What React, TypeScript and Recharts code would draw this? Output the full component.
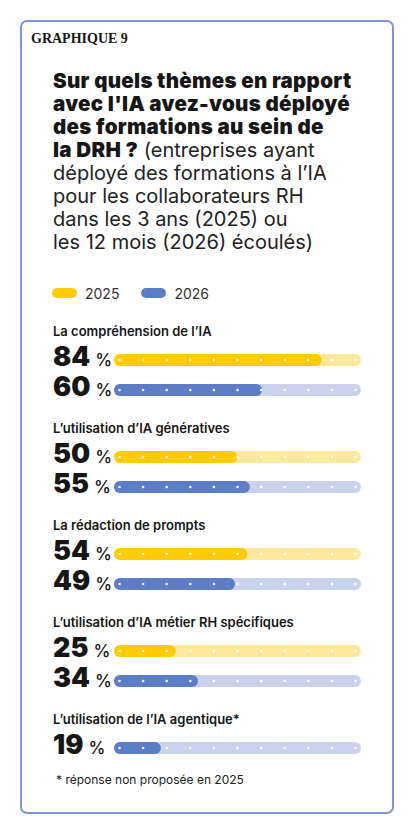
import { BarChart, Bar, XAxis, YAxis } from "recharts";

const THEMES = [
  "La compréhension de l’IA",
  "L’utilisation d’IA génératives",
  "La rédaction de prompts",
  "L’utilisation d’IA métier RH spécifiques",
  "L’utilisation de l’IA agentique*",
];
const YEARS = ["2025", "2026"];
const VALUES_2025: (number | null)[] = [84, 50, 54, 25, null];
const VALUES_2026: (number | null)[] = [60, 55, 49, 34, 19];
const SCALE_MAX = 100;

const TITLE_BOLD = [
  "Sur quels thèmes en rapport",
  "avec l'IA avez-vous déployé",
  "des formations au sein de",
];
const TITLE_MIXED_BOLD = "la DRH ?";
const TITLE_MIXED_LIGHT = " (entreprises ayant";
const TITLE_LIGHT = [
  "déployé des formations à l’IA",
  "pour les collaborateurs RH",
  "dans les 3 ans (2025) ou",
  "les 12 mois (2026) écoulés)",
];

const FILL: Record<string, string> = { "2025": "#FFCB05", "2026": "#5D7EC6" };
const TRACK: Record<string, string> = { "2025": "#FDE89C", "2026": "#CBD2EE" };

const ROW = 30;
const BAR = 12;
const PAD = 10; // room above the first row for the big number
const TEXT = "#161616";

type Row = { year: string; value: number; max: number };

const TrackShape = (p: any) => {
  const { x, y, width, height, payload } = p;
  return <rect x={x} y={y} width={width} height={height} rx={height / 2} fill={TRACK[payload.year]} />;
};

const FillShape = (p: any) => {
  const { x, y, width, height, payload } = p;
  if (!width) return null;
  return <rect x={x} y={y} width={width} height={height} rx={height / 2} fill={FILL[payload.year]} />;
};

const DotsShape = (p: any) => {
  const { x, y, width, height } = p;
  const inset = height / 2 - 0.5;
  const step = (width - inset * 2) / 10;
  return (
    <g>
      {Array.from({ length: 11 }, (_, i) => (
        <circle key={i} cx={x + inset + i * step} cy={y + height / 2} r={1.3} fill="#fff" fillOpacity={0.95} />
      ))}
    </g>
  );
};

function GroupChart({ rows }: { rows: Row[] }) {
  const tick = (p: any) => {
    const row = rows[p.payload.index];
    return (
      <text x={0} y={p.y + 6} fill={TEXT} fontFamily="Inter">
        <tspan fontSize={27} fontWeight={900}>
          {row.value}
        </tspan>
        <tspan fontSize={17} fontWeight={500} dx={5}>
          %
        </tspan>
      </text>
    );
  };
  return (
    <BarChart
      layout="vertical"
      width={308}
      height={rows.length * ROW + PAD}
      data={rows}
      margin={{ top: PAD, right: 0, bottom: 0, left: 0 }}
      barSize={BAR}
      barGap={-BAR}
    >
      <XAxis type="number" domain={[0, SCALE_MAX]} hide />
      <YAxis type="category" dataKey="year" width={61} axisLine={false} tickLine={false} tick={tick} />
      <Bar dataKey="max" shape={TrackShape} isAnimationActive={false} />
      <Bar dataKey="value" shape={FillShape} isAnimationActive={false} />
      <Bar dataKey={(d: Row) => d.max} shape={DotsShape} isAnimationActive={false} />
    </BarChart>
  );
}

export default function App() {
  const groups = THEMES.map((label, i) => {
    const rows: Row[] = [];
    [VALUES_2025[i], VALUES_2026[i]].forEach((v, k) => {
      if (v != null) rows.push({ year: YEARS[k], value: v, max: SCALE_MAX });
    });
    return { label, rows };
  });

  const bold = { fontWeight: 900, fontSize: 20.5, letterSpacing: 0.3 };
  const light = { fontWeight: 400, color: "#222", fontSize: 20 };

  return (
    <div
      style={{
        position: "absolute",
        left: 20,
        top: 20,
        width: 374,
        height: 794,
        boxSizing: "border-box",
        border: "2px solid #7F95D6",
        borderRadius: 7,
        background: "#fff",
        fontFamily: "Inter, sans-serif",
        color: TEXT,
      }}
    >
      <div
        style={{
          position: "absolute",
          left: 9,
          top: 9,
          fontFamily: "'Liberation Serif', serif",
          fontWeight: 700,
          fontSize: 14,
          lineHeight: "16px",
          whiteSpace: "nowrap",
        }}
      >
        GRAPHIQUE 9
      </div>

      <div
        style={{
          position: "absolute",
          left: 31,
          top: 47,
          fontSize: 20,
          lineHeight: "23px",
          whiteSpace: "nowrap",
        }}
      >
        {TITLE_BOLD.map((t) => (
          <div key={t} style={bold}>
            {t}
          </div>
        ))}
        <div>
          <span style={bold}>{TITLE_MIXED_BOLD}</span>
          <span style={light}>{TITLE_MIXED_LIGHT}</span>
        </div>
        {TITLE_LIGHT.map((t) => (
          <div key={t} style={light}>
            {t}
          </div>
        ))}
      </div>

      <div
        style={{
          position: "absolute",
          left: 30,
          top: 261,
          height: 20,
          display: "flex",
          alignItems: "center",
          fontSize: 14,
          color: "#333",
        }}
      >
        {YEARS.map((y) => (
          <div key={y} style={{ display: "flex", alignItems: "center", marginRight: 22 }}>
            <span
              style={{ width: 25, height: 10, borderRadius: 5, background: FILL[y], marginRight: 8, display: "inline-block" }}
            />
            {y}
          </div>
        ))}
      </div>

      {groups.map((g, i) => (
        <div key={g.label}>
          <div
            style={{
              position: "absolute",
              left: 31,
              top: 299 + i * 97,
              fontSize: 13,
              fontWeight: 600,
              lineHeight: "20px",
              whiteSpace: "nowrap",
            }}
          >
            {g.label}
          </div>
          <div style={{ position: "absolute", left: 31, top: 323 - PAD + i * 97 }}>
            <GroupChart rows={g.rows} />
          </div>
        </div>
      ))}

      <div
        style={{
          position: "absolute",
          left: 34,
          top: 750,
          fontSize: 12,
          lineHeight: "16px",
          color: "#222",
          whiteSpace: "nowrap",
        }}
      >
        * réponse non proposée en 2025
      </div>
    </div>
  );
}
